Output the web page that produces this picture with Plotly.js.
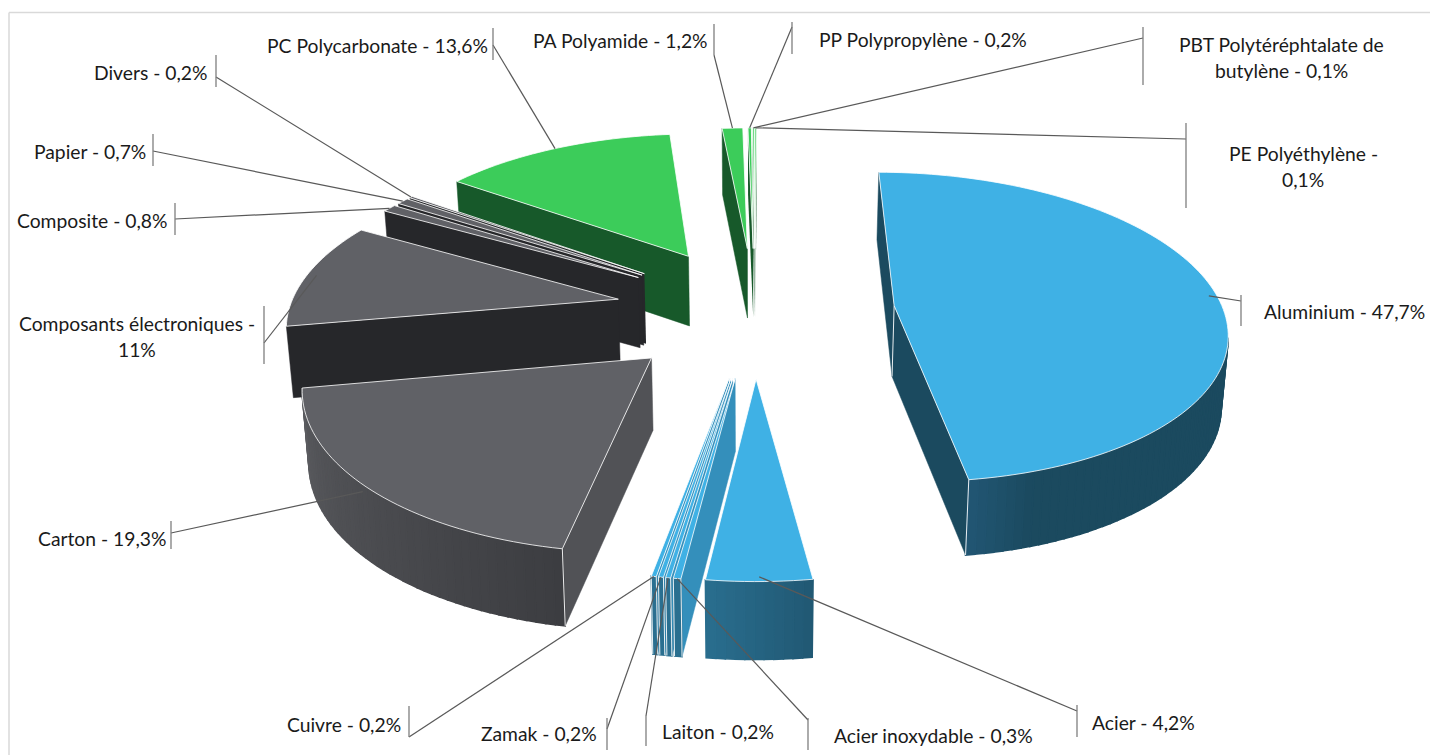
<!DOCTYPE html>
<html><head><meta charset="utf-8">
<script src="https://cdn.plot.ly/plotly-3.0.1.min.js"></script>
<style>html,body{margin:0;padding:0;background:#fff;overflow:hidden}#chart{width:1430px;height:755px}</style>
</head><body><div id="chart"></div>
<script>
// ---- data, clockwise from the top of the pie
const categories = ['Aluminium','Acier','Acier inoxydable','Laiton','Zamak','Cuivre','Carton','Composants électroniques','Composite','Papier','Divers','PC Polycarbonate','PA Polyamide','PP Polypropylène','PBT Polytéréphtalate de butylène','PE Polyéthylène'];
const shares = [47.7,4.2,0.3,0.2,0.2,0.2,19.3,11,0.8,0.7,0.2,13.6,1.2,0.2,0.1,0.1];
const families = ['metal','metal','metal','metal','metal','metal','grey','grey','grey','grey','grey','plastic','plastic','plastic','plastic','plastic'];

// ---- label layout (pixels of the page): tick x, tick y0, y1, text x, anchor, text y, elbow y, leader fraction along the radius
const labelLayout = {
 'Aluminium':[1241,295,326,1262,'left',311,301,.975],
 'Acier':[1077,705,737,1090,'left',722,711,.98],
 'Acier inoxydable':[808,718,750,832,'left',735,720,1],
 'Laiton':[646,716,746,660,'left',731,716,1],
 'Zamak':[607,718,750,599,'right',733,729,1],
 'Cuivre':[409,706,737,403,'right',724,737,1],
 'Carton':[171,521,549,168,'right',538,533,1.02],
 'Composants électroniques':[264,306,364,137,'center',323,343,.97],
 'Composite':[175,203,235,169,'right',220,219,1],
 'Papier':[153,134,166,148,'right',151,151,1],
 'Divers':[216,55,87,210,'right',72,77,1],
 'PC Polycarbonate':[493,28,60,490,'right',45,45,1],
 'PA Polyamide':[714,24,55,710,'right',40,55,1],
 'PP Polypropylène':[792,22,54,817,'left',39,27,1],
 'PBT Polytéréphtalate de butylène':[1143,27,85,1281,'center',44,38,1],
 'PE Polyéthylène':[1186,123,208,1303,'center',153,139,1]
};
const lineBreaks = {'PBT Polytéréphtalate de butylène':'butylène','PE Polyéthylène':'0,1%','Composants électroniques':'11%'};

// ---- projection
const CX=755, CY=310, C=.00042, SY=.465, EXPLODE=140, RADIUS=329, DEPTH=71, FAR=.985, ROT=.3;
const rad=d=>d*Math.PI/180;
function project(u,v,bottom){
  const w=1+C*v; let x=CX+u/w, y=CY-SY*v/w;
  if(bottom){ x=CX+(x-CX)*FAR; y+=DEPTH*(1+(1/w-1)*.4); }
  return [x,y];
}
const hex=c=>[1,3,5].map(i=>parseInt(c.substr(i,2),16));
function mix(a,b,t){t=Math.max(0,Math.min(1,t));const A=hex(a),B=hex(b);return 'rgb('+A.map((x,i)=>Math.round(x+(B[i]-x)*t)).join(',')+')';}
const tops={metal:'#3FB1E5',grey:'#606166',plastic:'#3CCC5A'};
function radialColour(f,normalU){
  if(f==='metal') return normalU>.5?'#348FBB':'#1B4A5F';
  if(f==='grey') return normalU>.5?'#515256':'#26272A';
  return '#17592A';
}
function outerColour(f,t){
  if(f==='metal') return t<172.3?mix('#1B4A5F','#225674',(t-162)/10):mix('#215873','#2A6F90',(t-172)/16);
  if(f==='grey') return t>259.7?'#26272A':mix('#3C3D41','#5A5B5F',(t-190)/70);
  return '#17592A';
}

const total=shares.reduce((a,b)=>a+b,0);
let acc=0;
const slices=categories.map((name,i)=>{
  const s=ROT+acc/total*360; acc+=shares[i]; const e=ROT+acc/total*360; const m=(s+e)/2;
  return {name,family:families[i],s,e,m,ou:EXPLODE*Math.sin(rad(m)),ov:EXPLODE*Math.cos(rad(m))};
});
const rim=(sl,t,f,bottom)=>project(sl.ou+RADIUS*f*Math.sin(rad(t)),sl.ov+RADIUS*f*Math.cos(rad(t)),bottom);

const traces=[];
const poly=(pts,fill,line,width)=>traces.push({type:'scatter',mode:'lines',x:pts.map(p=>p[0]),y:pts.map(p=>p[1]),fill:'toself',fillcolor:fill,line:{color:line,width:width,simplify:false},hoverinfo:'skip',showlegend:false});
const path=(pts,col,width)=>traces.push({type:'scatter',mode:'lines',x:pts.map(p=>p[0]),y:pts.map(p=>p[1]),line:{color:col,width:width,simplify:false},hoverinfo:'skip',showlegend:false});

[...slices].sort((a,b)=>b.ov-a.ov).forEach(sl=>{
  const a=project(sl.ou,sl.ov,false), ab=project(sl.ou,sl.ov,true);
  const mid=rim(sl,sl.m,.6,false);
  const wallStroke=(sl.e-sl.s)<1?0:.5;
  const visibleRadial=t=>{const o=rim(sl,t,1,false);const d=[o[0]-a[0],o[1]-a[1]];const cr=d[0]*(mid[1]-a[1])-d[1]*(mid[0]-a[0]);return d[0]*cr<0;};
  const sv=visibleRadial(sl.s), ev=visibleRadial(sl.e);
  if(sv){const c=radialColour(sl.family,Math.sin(rad(sl.s-90)));poly([a,rim(sl,sl.s,1,false),rim(sl,sl.s,1,true),ab,a],c,c,wallStroke);}
  if(ev){const c=radialColour(sl.family,Math.sin(rad(sl.e+90)));poly([a,rim(sl,sl.e,1,false),rim(sl,sl.e,1,true),ab,a],c,c,wallStroke);}
  if(sv&&ev) path([a,ab],'#FFFFFF',.9);
  const n=Math.max(1,Math.ceil((sl.e-sl.s)/1.5));
  let firstVis=false,lastVis=false;
  for(let k=0;k<n;k++){
    const t0=sl.s+(sl.e-sl.s)*k/n,t1=sl.s+(sl.e-sl.s)*(k+1)/n;
    const p0=rim(sl,t0,1,false),p1=rim(sl,t1,1,false);
    if(p1[0]<p0[0]){
      if(k===0)firstVis=true; if(k===n-1)lastVis=true;
      const col=outerColour(sl.family,(t0+t1)/2);
      poly([p0,p1,rim(sl,t1,1,true),rim(sl,t0,1,true),p0],col,col,1.6);
    }
  }
  if(firstVis&&sv||firstVis&&n<=4) path([rim(sl,sl.s,1,false),rim(sl,sl.s,1,true)],'#FFFFFF',.9);
  if(lastVis&&ev||lastVis&&n<=4) path([rim(sl,sl.e,1,false),rim(sl,sl.e,1,true)],'#FFFFFF',.9);
  const top=[a];
  for(let k=0;k<=n;k++) top.push(rim(sl,sl.s+(sl.e-sl.s)*k/n,1,false));
  top.push(a);
  poly(top,tops[sl.family],'rgba(255,255,255,.9)',.9);
});

// ---- leaders and labels
const annotations=[], shapes=[];
slices.forEach((sl,i)=>{
  const L=labelLayout[sl.name];
  const st=rim(sl,sl.m,L[7],false);
  path([st,[L[0],L[6]]],'#595959',1.2);
  path([[L[0],L[1]],[L[0],L[2]]],'#7F7F7F',1.3);
  const pct=String(shares[i]).replace('.',',')+'%';
  let txt=sl.name+' - '+pct;
  const br=lineBreaks[sl.name];
  const lines=br?[txt.slice(0,txt.indexOf(br)).trim(),txt.slice(txt.indexOf(br))]:[txt];
  lines.forEach((t,j)=>annotations.push({x:L[3],y:L[5]+j*26.5,xref:'x',yref:'y',text:t,showarrow:false,xanchor:L[4],yanchor:'middle',font:{family:'Lato, "Open Sans", sans-serif',size:19.3,color:'#1A1A1A'}}));
});
shapes.push({type:'line',xref:'x',yref:'y',x0:9,x1:1430,y0:12.5,y1:12.5,line:{color:'#D9D9D9',width:1.5}});
shapes.push({type:'line',xref:'x',yref:'y',x0:9,x1:9,y0:12.5,y1:755,line:{color:'#D9D9D9',width:1.5}});

Plotly.newPlot('chart',traces,{
  width:1430,height:755,margin:{l:0,r:0,t:0,b:0},paper_bgcolor:'#fff',plot_bgcolor:'#fff',showlegend:false,
  xaxis:{range:[0,1430],visible:false,fixedrange:true},
  yaxis:{range:[755,0],visible:false,fixedrange:true},
  annotations,shapes
},{displayModeBar:false,staticPlot:true});
</script></body></html>
